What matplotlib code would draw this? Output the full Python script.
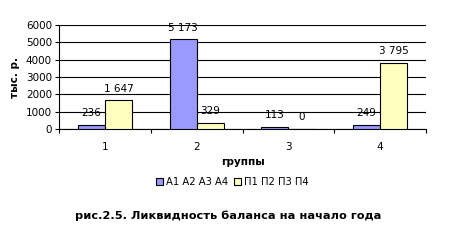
import matplotlib.pyplot as plt
import numpy as np

groups = ['1', '2', '3', '4']
assets = [236, 5173, 113, 249]
liabilities = [1647, 329, 0, 3795]
yticks = [0, 1000, 2000, 3000, 4000, 5000, 6000]

plt.rcParams['font.family'] = ['DejaVu Sans']

fig = plt.figure(figsize=(4.51, 2.44), dpi=100)
ax = fig.add_axes([59 / 451, 1 - 129 / 244, 367 / 451, 104 / 244])

x = np.arange(len(groups))
w = 0.295
b1 = ax.bar(x - w / 2, assets, w, color='#9999FF', edgecolor='black', linewidth=0.8,
            label='А1 А2 А3 А4', zorder=3)
b2 = ax.bar(x + w / 2, liabilities, w, color='#FFFFC0', edgecolor='black', linewidth=0.8,
            label='П1 П2 П3 П4', zorder=3)

for bars, vals in ((b1, assets), (b2, liabilities)):
    for r, v in zip(bars, vals):
        ax.annotate(f'{v:,}'.replace(',', ' '), (r.get_x() + r.get_width() / 2, v),
                    xytext=(0, 8.5), textcoords='offset points', ha='center', va='center',
                    fontsize=7.5)

ax.set_xlim(-0.5, 3.5)
ax.set_ylim(0, 6000)
ax.set_yticks(yticks)
ax.set_xticks(x)
ax.set_xticklabels(groups)
ax.set_xticks(np.arange(-0.5, 4, 1), minor=True)
ax.tick_params(axis='x', which='major', length=0, labelsize=7.5, pad=9)
ax.tick_params(axis='x', which='minor', length=3, width=0.8, direction='out')
ax.tick_params(axis='y', length=3, width=0.8, labelsize=7.5, pad=2)
ax.yaxis.grid(True, color='black', linewidth=0.8, zorder=0)
for s in ('top', 'right'):
    ax.spines[s].set_visible(False)
ax.spines['left'].set_linewidth(0.8)
ax.spines['bottom'].set_linewidth(0.8)

ax.set_xlabel('группы', fontsize=7.5, fontweight='bold', labelpad=4)
ax.set_ylabel('тыс. р.', fontsize=7.5, fontweight='bold', labelpad=4)

fig.legend(loc='center', bbox_to_anchor=(232 / 451, 1 - 182 / 244), ncol=2, frameon=False,
           fontsize=7.2, handlelength=0.7, handleheight=0.7, handletextpad=0.3,
           columnspacing=0.6)
fig.text(228 / 451, 1 - 216 / 244, 'рис.2.5. Ликвидность баланса на начало года',
         ha='center', va='center', fontsize=8.2, fontweight='bold')

fig.savefig('out.png', dpi=100)
